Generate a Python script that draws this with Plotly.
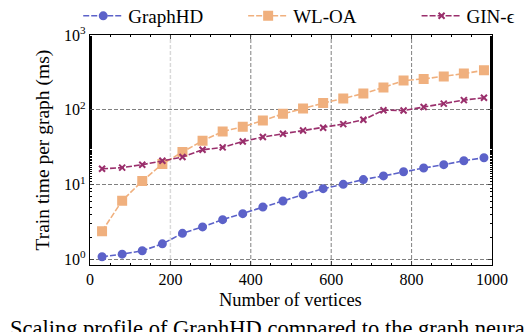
import plotly.graph_objects as go

vertices = [30, 80, 130, 180, 230, 280, 330, 380, 430, 480,
            530, 580, 630, 680, 730, 780, 830, 880, 930, 980]

graphhd = [1.09, 1.18, 1.31, 1.62, 2.24, 2.73, 3.41, 4.1, 5.04, 6.06,
           7.36, 8.85, 10.1, 11.7, 13.1, 14.9, 16.7, 18.5, 20.9, 22.9]
wl_oa = [2.39, 6.12, 11.2, 18.9, 27.3, 38.6, 51.4, 59.3, 72, 88.5,
         104, 123, 142, 165, 199, 246, 259, 278, 305, 338]
gin_eps = [16.3, 16.9, 18.5, 20.9, 23.4, 29.3, 31.5, 37.8, 43.3, 47.9,
           53, 57.5, 64.5, 73.6, 99, 98, 109, 121, 135, 145]

y_ticks = [1, 10, 100, 1000]
y_ticktext = ["10<sup>0</sup>", "10<sup>1</sup>", "10<sup>2</sup>", "10<sup>3</sup>"]
x_ticks = [0, 200, 400, 600, 800, 1000]

FONT = "Liberation Serif"
DASH = "6px,2px"

fig = go.Figure()

# one legend per series so each entry can sit where the original puts it
series = [
    ("GraphHD", graphhd, "#5c62c9", "circle", 7, "legend", 0.132),
    ("WL-OA", wl_oa, "#f0b07e", "square", 8, "legend2", 0.442),
    ("GIN-ϵ", gin_eps, "#9a2f6c", "x-thin-open", 6, "legend3", 0.768),
]
legend_cfg = {}
for name, vals, color, symbol, size, leg, lx in series:
    fig.add_trace(
        go.Scatter(
            x=vertices,
            y=vals,
            mode="lines+markers",
            name=name,
            legend=leg,
            line=dict(color=color, width=1.6, dash=DASH),
            marker=dict(color=color, symbol=symbol, size=size,
                        line=dict(color=color, width=2)),
        )
    )
    legend_cfg[leg] = dict(
        orientation="h",
        xref="container",
        yref="container",
        x=lx,
        xanchor="left",
        y=0.976,
        yanchor="middle",
        font=dict(family=FONT, size=19),
        itemwidth=40,
        bgcolor="rgba(0,0,0,0)",
        borderwidth=0,
    )

# grid lines at the x ticks (the one at 200 is lighter in the original)
fig.add_vline(x=200, line=dict(color="#d9d9d9", width=1.5, dash="4px,2px"), layer="below")
for xv in [400, 600, 800]:
    fig.add_vline(x=xv, line=dict(color="#808080", width=1, dash="4px,2px"), layer="below")

fig.update_layout(
    width=532,
    height=332,
    margin=dict(l=82, r=48, t=27, b=75, autoexpand=False),
    plot_bgcolor="white",
    paper_bgcolor="white",
    font=dict(family=FONT, size=14, color="black"),
    showlegend=True,
    **legend_cfg,
)

fig.update_xaxes(
    range=[0, 1000],
    tickvals=x_ticks,
    ticks="inside",
    ticklen=4,
    showline=True,
    linecolor="black",
    linewidth=1.2,
    mirror="ticks",
    showgrid=False,
    zeroline=False,
    tickfont=dict(family=FONT, size=16),
    minor=dict(dtick=50, ticks="inside", ticklen=2, tickcolor="black", showgrid=False),
)

fig.update_yaxes(
    type="log",
    range=[-0.073, 3.0],
    tickvals=y_ticks,
    ticktext=y_ticktext,
    ticks="inside",
    ticklen=4,
    showline=True,
    linecolor="black",
    linewidth=1.2,
    mirror="ticks",
    showgrid=True,
    gridcolor="#808080",
    griddash="4px,2px",
    gridwidth=1,
    zeroline=False,
    tickfont=dict(family=FONT, size=16),
    minor=dict(ticks="inside", ticklen=2, tickcolor="black", showgrid=False),
)

# axis titles placed as annotations to match the original offsets
fig.add_annotation(
    text="Number of vertices",
    xref="paper", yref="paper",
    x=0.498, y=-0.152,
    xanchor="center", yanchor="middle",
    showarrow=False,
    font=dict(family=FONT, size=18.5),
)
fig.add_annotation(
    text="Train time per graph (ms)",
    xref="paper", yref="paper",
    x=-0.117, y=0.502,
    xanchor="center", yanchor="middle",
    textangle=-90,
    showarrow=False,
    font=dict(family=FONT, size=19.5),
)

fig.add_annotation(
    text="Scaling profile of GraphHD compared to the graph neural",
    xref="paper",
    yref="paper",
    x=-0.204,
    y=-0.215,
    xanchor="left",
    yanchor="top",
    showarrow=False,
    font=dict(family=FONT, size=22.5),
)

fig.write_html("out.html")
